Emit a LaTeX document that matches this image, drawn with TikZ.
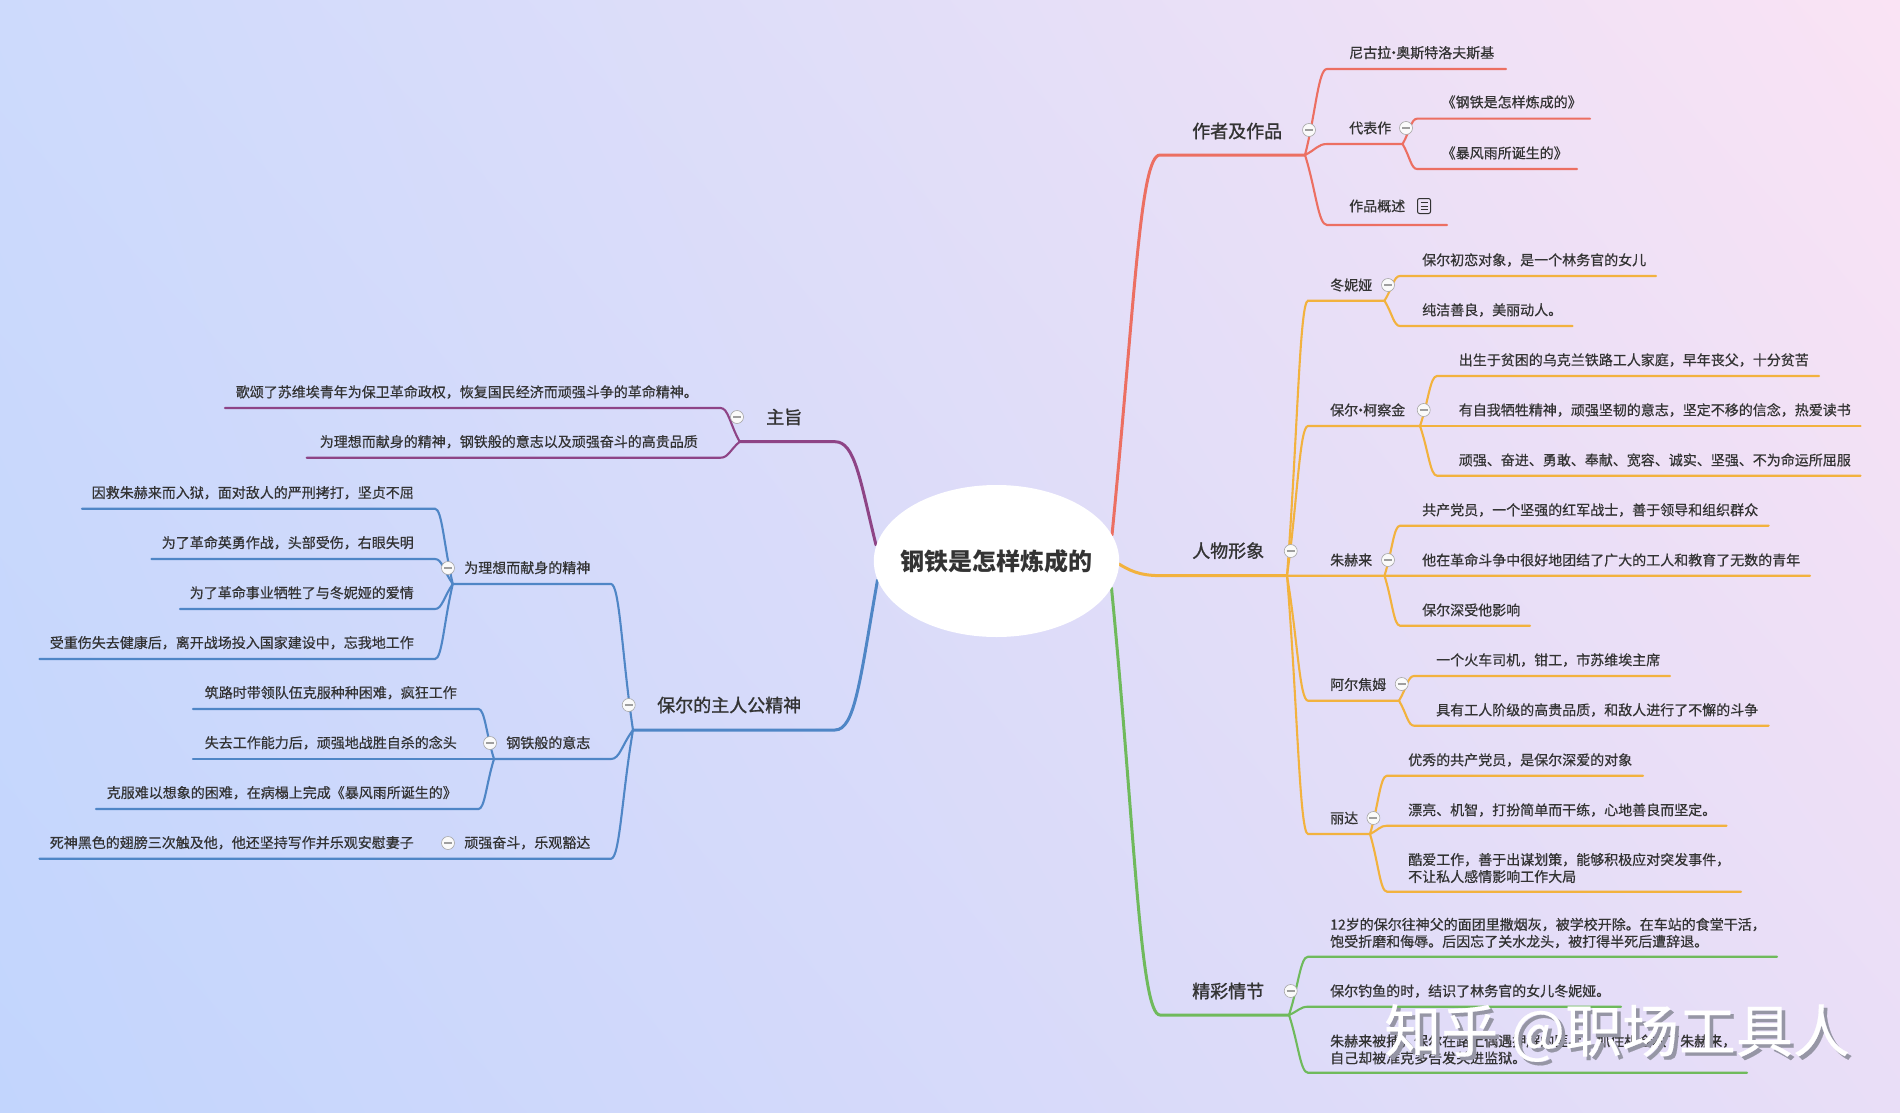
\documentclass[tikz,border=0pt]{standalone}
\usepackage{fontspec}
\setmainfont[FakeBold=0.6]{Noto Sans CJK SC}
\newfontfamily\wmfont[FakeBold=0.3]{Noto Sans CJK SC}
\newfontfamily\topicfont[FakeBold=1.2]{Noto Sans CJK SC}
\newfontfamily\rootfont{Noto Sans CJK SC}
\usetikzlibrary{calc,shadings,shapes.geometric}
\definecolor{cred}{HTML}{EC6F62}
\definecolor{corg}{HTML}{F2B23E}
\definecolor{cgrn}{HTML}{6FBA5C}
\definecolor{cblu}{HTML}{4F86C6}
\definecolor{cpur}{HTML}{8E4486}
\definecolor{ctxt}{HTML}{333333}
\definecolor{bgul}{RGB}{205,218,252}
\definecolor{bgll}{RGB}{194,213,253}
\definecolor{bgur}{RGB}{250,227,244}
\definecolor{bglr}{RGB}{233,222,247}
\definecolor{wmgray}{RGB}{150,150,165}
\newcommand{\nmid}{\kern-4.5pt·\kern-4.5pt}
\tikzset{
  txt/.style={anchor=west,inner sep=0pt,font=\fontsize{14}{17}\selectfont,text=ctxt,align=left},
  txr/.style={anchor=east,inner sep=0pt,font=\fontsize{14}{17}\selectfont,text=ctxt,align=right},
  topic/.style={anchor=west,inner sep=0pt,font=\topicfont\fontsize{18}{22}\selectfont,text=ctxt},
  lr/.style={draw=cred,line width=2.1pt}, lrm/.style={draw=cred,line width=3pt},
  lo/.style={draw=corg,line width=2.1pt}, lom/.style={draw=corg,line width=3pt},
  lg/.style={draw=cgrn,line width=2.1pt}, lgm/.style={draw=cgrn,line width=3pt},
  lb/.style={draw=cblu,line width=2.1pt}, lbm/.style={draw=cblu,line width=3pt},
  lp/.style={draw=cpur,line width=2.1pt}, lpm/.style={draw=cpur,line width=3pt},
  colbtn/.style={circle,draw=gray!70,line width=0.6pt,fill=white!96!gray,minimum size=13pt,inner sep=0pt,
    path picture={\draw[gray!75,line width=1.6pt] (-4,0) -- (4,0);}},
  noteicon/.style={rectangle,rounded corners=2pt,draw=ctxt,line width=1pt,minimum width=13pt,minimum height=15pt,inner sep=0pt,
    path picture={\draw[ctxt,line width=0.9pt] (-3.5,-3.5)--(3.5,-3.5) (-3.5,0)--(3.5,0) (-3.5,3.5)--(3.5,3.5);}}
}
% style, hub, name, corner x, corner y, end x
\newcommand{\brnch}[6]{%
  \coordinate (#3c) at (#4,#5);
  \coordinate (#3e) at (#6,#5);
  \coordinate (tmpa) at ($(#2)!.5!(#3c)$);
  \coordinate (tmpb) at ($(#2)!.6!(#3c)$);
  \draw[#1,line cap=round] (#2) .. controls (tmpa) and (tmpb |- #3c) .. (#3c) -- (#3e);}
\begin{document}
\begin{tikzpicture}[x=1pt,y=-1pt]
\useasboundingbox (0,0) rectangle (1900,1113);
\shade[upper left=bgul,lower left=bgll,upper right=bgur,lower right=bglr]
  (0,0) rectangle (1900,1113);

% hubs
\coordinate (hred) at (1305,155);
\coordinate (horg) at (1287,575.7);
\coordinate (hgrn) at (1289,1015);
\coordinate (hblu) at (633,730);
\coordinate (hpur) at (739.7,441.7);

% main branches
\coordinate (sred) at (1112,535);
\coordinate (sorg) at (1119,564);
\coordinate (sgrn) at (1111.5,588);
\coordinate (sblu) at (877.5,580);
\coordinate (spur) at (876,545);
\coordinate (ared) at (1160,155);
\coordinate (agrn) at (1160,1015);
\coordinate (aorg) at (1165,575.7);
\coordinate (ablu) at (835,730);
\coordinate (apur) at (835,441.7);
\draw[lrm,line cap=round] (sred) .. controls (1135,300) and (1140,155) .. (ared) -- (hred);
\draw[lom,line cap=round] (sorg) .. controls (1135,574) and (1145,575.7) .. (aorg) -- (horg);
\draw[lgm,line cap=round] (sgrn) .. controls (1135,830) and (1140,1015) .. (agrn) -- (hgrn);
\draw[lbm,line cap=round] (sblu) .. controls (860,680) and (855,730) .. (ablu) -- (hblu);
\draw[lpm,line cap=round] (spur) .. controls (860,480) and (855,441.7) .. (apur) -- (hpur);

\node[ellipse,fill=white,minimum width=245.4pt,minimum height=152pt,inner sep=0pt] (root) at (996.5,561) {};
\node[inner sep=0pt,font=\rootfont\bfseries\fontsize{24}{28}\selectfont,text=ctxt] (rootlabel) at (root.center) {钢铁是怎样炼成的};

% ---- red
\node[topic] (t1) at (1192,131) {作者及作品};
\brnch{lr}{hred}{r1}{1327}{69}{1506}
\node[txt] (r1t) at (1349,52.7) {尼古拉\nmid 奥斯特洛夫斯基};
\brnch{lr}{hred}{r2}{1327}{144}{1402.6}
\node[txt] (r2t) at (1349,128) {代表作};
\brnch{lr}{r2e}{r21}{1417}{118.7}{1590}
\node[txt] (r21t) at (1441.5,102) {《钢铁是怎样炼成的》};
\brnch{lr}{r2e}{r22}{1417}{169}{1577}
\node[txt] (r22t) at (1441.5,153) {《暴风雨所诞生的》};
\brnch{lr}{hred}{r3}{1327}{225}{1447}
\node[txt] (r3t) at (1349,206) {作品概述};
\node[noteicon] (r3i) at (1424,206) {};

% ---- orange
\node[topic] (t2) at (1192,550.7) {人物形象};
\brnch{lo}{horg}{o1}{1308}{300.7}{1384.5}
\node[txt] (o1t) at (1330,285) {冬妮娅};
\brnch{lo}{o1e}{o11}{1400}{276}{1656}
\node[txt] (o11t) at (1422,260) {保尔初恋对象，是一个林务官的女儿};
\brnch{lo}{o1e}{o12}{1400}{326}{1572.5}
\node[txt] (o12t) at (1422,310) {纯洁善良，美丽动人。};
\brnch{lo}{horg}{o2}{1308}{426}{1420}
\node[txt] (o2t) at (1330,410) {保尔\nmid 柯察金};
\brnch{lo}{o2e}{o21}{1437}{376}{1819}
\node[txt] (o21t) at (1458.6,360) {出生于贫困的乌克兰铁路工人家庭，早年丧父，十分贫苦};
\brnch{lo}{o2e}{o22}{1437}{426}{1860.5}
\node[txt] (o22t) at (1458.6,410) {有自我牺牲精神，顽强坚韧的意志，坚定不移的信念，热爱读书};
\brnch{lo}{o2e}{o23}{1437}{475.7}{1860.5}
\node[txt] (o23t) at (1458.6,460) {顽强、奋进、勇敢、奉献、宽容、诚实、坚强、不为命运所屈服};
\brnch{lo}{horg}{o3}{1308}{575.7}{1384.5}
\node[txt] (o3t) at (1330,560) {朱赫来};
\brnch{lo}{o3e}{o31}{1400}{525.7}{1768.7}
\node[txt] (o31t) at (1422,510) {共产党员，一个坚强的红军战士，善于领导和组织群众};
\brnch{lo}{o3e}{o32}{1400}{575.7}{1810}
\node[txt] (o32t) at (1422,560) {他在革命斗争中很好地团结了广大的工人和教育了无数的青年};
\brnch{lo}{o3e}{o33}{1400}{625.7}{1530}
\node[txt] (o33t) at (1422,610) {保尔深受他影响};
\brnch{lo}{horg}{o4}{1308}{700.7}{1399}
\node[txt] (o4t) at (1330,684.5) {阿尔焦姆};
\brnch{lo}{o4e}{o41}{1414}{676}{1670}
\node[txt] (o41t) at (1436,660) {一个火车司机，钳工，市苏维埃主席};
\brnch{lo}{o4e}{o42}{1414}{725.7}{1768.7}
\node[txt] (o42t) at (1436,710) {具有工人阶级的高贵品质，和敌人进行了不懈的斗争};
\brnch{lo}{horg}{o5}{1308}{834}{1370}
\node[txt] (o5t) at (1330,818) {丽达};
\brnch{lo}{o5e}{o51}{1387}{775.7}{1643}
\node[txt] (o51t) at (1408,760) {优秀的共产党员，是保尔深爱的对象};
\brnch{lo}{o5e}{o52}{1387}{825.7}{1726.6}
\node[txt] (o52t) at (1408,810) {漂亮、机智，打扮简单而干练，心地善良而坚定。};
\brnch{lo}{o5e}{o53}{1387}{891.7}{1741}
\node[txt] (o53t) at (1408,868) {酷爱工作，善于出谋划策，能够积极应对突发事件，\\不让私人感情影响工作大局};

% ---- green
\node[topic] (t3) at (1192,991) {精彩情节};
\brnch{lg}{hgrn}{g1}{1308}{956.7}{1777}
\node[txt] (g1t) at (1330,933) {12岁的保尔往神父的面团里撒烟灰，被学校开除。在车站的食堂干活，\\饱受折磨和侮辱。后因忘了关水龙头，被打得半死后遭辞退。};
\brnch{lg}{hgrn}{g2}{1308}{1006.7}{1621}
\node[txt] (g2t) at (1330,991) {保尔钓鱼的时，结识了林务官的女儿冬妮娅。};
\brnch{lg}{hgrn}{g3}{1308}{1072.7}{1747}
\node[txt] (g3t) at (1330,1049.5) {朱赫来被捕，保尔在路上偶遇押解的匪兵，抓住机会救了朱赫来，\\自己却被准克多告发关进监狱。};

% ---- purple
\node[topic] (t4) at (766,417) {主旨};
\brnch{lp}{hpur}{p1}{720.6}{408}{225}
\node[txr] (p1t) at (698,392) {歌颂了苏维埃青年为保卫革命政权，恢复国民经济而顽强斗争的革命精神。};
\brnch{lp}{hpur}{p2}{720.6}{457.7}{306.6}
\node[txr] (p2t) at (698,441.7) {为理想而献身的精神，钢铁般的意志以及顽强奋斗的高贵品质};

% ---- blue
\node[topic] (t5) at (657,705) {保尔的主人公精神};
\brnch{lb}{hblu}{b1l}{611}{584}{452.8}
\node[txr] (b1lt) at (590.5,567.7) {为理想而献身的精神};
\brnch{lb}{b1le}{b11l}{435}{508.7}{82}
\node[txr] (b11t) at (414,492.7) {因救朱赫来而入狱，面对敌人的严刑拷打，坚贞不屈};
\brnch{lb}{b1le}{b12l}{435}{559}{151.5}
\node[txr] (b12t) at (414,542.7) {为了革命英勇作战，头部受伤，右眼失明};
\brnch{lb}{b1le}{b13l}{435}{609}{180}
\node[txr] (b13t) at (414,592.7) {为了革命事业牺牲了与冬妮娅的爱情};
\brnch{lb}{b1le}{b14l}{435}{659}{39.5}
\node[txr] (b14t) at (414,642.7) {受重伤失去健康后，离开战场投入国家建设中，忘我地工作};
\brnch{lb}{hblu}{b2l}{611}{759}{494}
\node[txr] (b2lt) at (590.5,742.7) {钢铁般的意志};
\brnch{lb}{b2le}{b21l}{478.5}{709}{193}
\node[txr] (b21t) at (457,692.7) {筑路时带领队伍克服种种困难，疯狂工作};
\brnch{lb}{b2le}{b22l}{478.5}{759}{193}
\node[txr] (b22t) at (457,742.7) {失去工作能力后，顽强地战胜自杀的念头};
\brnch{lb}{b2le}{b23l}{478.5}{809}{96}
\node[txr] (b23t) at (457,792.7) {克服难以想象的困难，在病榻上完成《暴风雨所诞生的》};
\brnch{lb}{hblu}{b3l}{611}{858.7}{39.5}
\node[txr] (b3lt) at (590.5,842.7) {顽强奋斗，乐观豁达};
\node[txr] (b31t) at (414,842.7) {死神黑色的翅膀三次触及他，他还坚持写作并乐观安慰妻子};

% ---- collapse buttons (above the branches)
\node[colbtn] (b1) at (1309,130) {};
\node[colbtn] (b2) at (1406,128) {};
\node[colbtn] (b3) at (1290.7,551) {};
\node[colbtn] (b4) at (1388,285) {};
\node[colbtn] (b5) at (1423.7,410) {};
\node[colbtn] (b6) at (1388,560) {};
\node[colbtn] (b7) at (1401.7,684) {};
\node[colbtn] (b8) at (1373.4,818) {};
\node[colbtn] (b9) at (1290.7,991) {};
\node[colbtn] (b10) at (737,417) {};
\node[colbtn] (b11) at (628.7,705) {};
\node[colbtn] (b12) at (448,568) {};
\node[colbtn] (b13) at (490,743) {};
\node[colbtn] (b14) at (448,843) {};

% ---- watermark
\node[anchor=west,inner sep=0pt,font=\wmfont\fontsize{57}{62}\selectfont,text=wmgray] (wms) at (1387.5,1036.5) {知乎 @职场工具人};
\node[anchor=west,inner sep=0pt,font=\wmfont\fontsize{57}{62}\selectfont,text=white] (wm) at (1384,1033) {知乎 @职场工具人};
\end{tikzpicture}
\end{document}
